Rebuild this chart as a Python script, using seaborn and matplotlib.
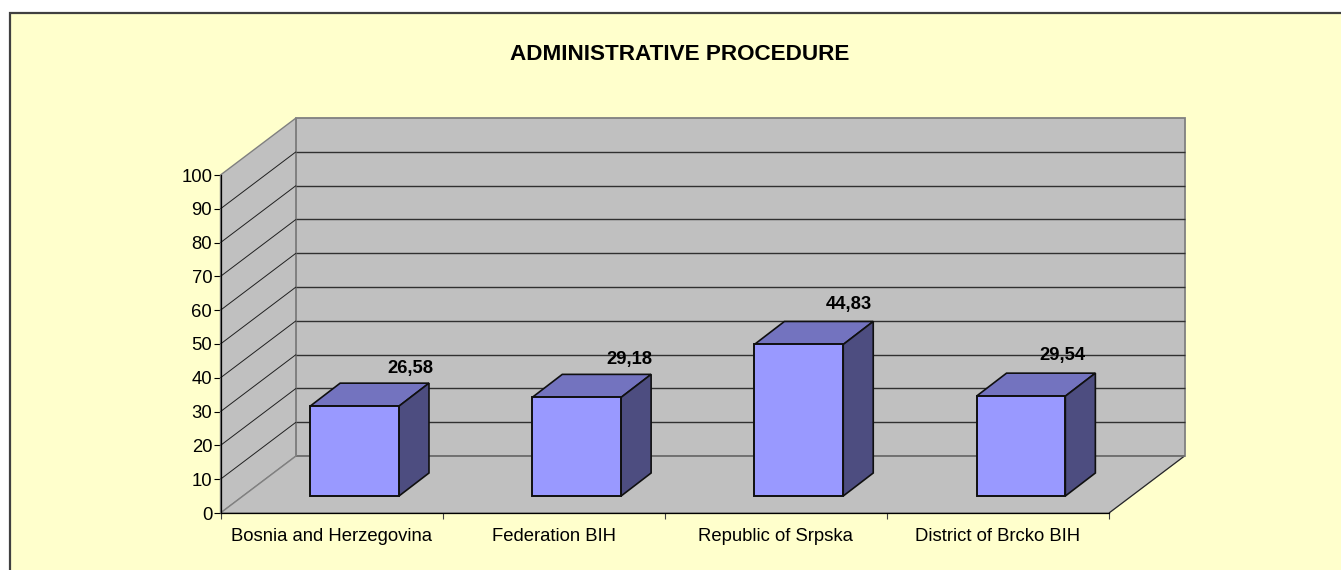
import matplotlib
matplotlib.use("Agg")
import matplotlib.pyplot as plt
from matplotlib.patches import Polygon, Rectangle
from matplotlib.transforms import Affine2D
import seaborn as sns

categories = ["Bosnia and Herzegovina", "Federation BIH", "Republic of Srpska", "District of Brcko BIH"]
values = [26.58, 29.18, 44.83, 29.54]
value_labels = ["26,58", "29,18", "44,83", "29,54"]
y_ticks = [0, 10, 20, 30, 40, 50, 60, 70, 80, 90, 100]
title = "ADMINISTRATIVE PROCEDURE"

# label nudges in pixels, Excel put them by hand
label_nudge_x = [56, 53, 50, 41]
label_nudge_y = [38, 38, 40, 41]

W, H = 1341, 570
YELLOW = "#FFFFCC"
WALL = "#C0C0C0"
EDGE = "#808080"
GRID = "#303030"

# depth of the walls and of the bars, pixels
WALL_DX, WALL_DY = 75.5, 57
BAR_DX, BAR_DY = 23, 17
DEPTH_DX, DEPTH_DY = 30, 23

sns.set_theme(style="white")
plt.rcParams["font.family"] = ["Liberation Sans", "DejaVu Sans"]

fig = plt.figure(figsize=(W / 100, H / 100), dpi=100, facecolor="white")
fig.add_artist(Rectangle((10 / W, -0.1), 1.1, 1.1 - 13.5 / H, transform=fig.transFigure,
                         facecolor=YELLOW, edgecolor="#404040", linewidth=1.6, zorder=-5))

ax = fig.add_axes([220.5 / W, (H - 513) / H, 888.5 / W, 338 / H])
ax.patch.set_visible(False)

sns.barplot(x=categories, y=values, color="#9999FF", saturation=1, width=0.4,
            edgecolor="#101010", linewidth=1.4, ax=ax, zorder=5)
ax.set_xlim(-0.5, 3.5)
ax.set_ylim(0, 100)
fig.canvas.draw()
bars = list(ax.patches)


def px(x, y, dx=0, dy=0):
    # data coords to display pixels, shifted into the depth
    p = ax.transData.transform((x, y))
    return (p[0] + dx, p[1] + dy)


def poly(points, face, edge, lw, z):
    fig_poly = Polygon(points, closed=True, facecolor=face, edgecolor=edge, linewidth=lw,
                       transform=None, zorder=z, clip_on=False, joinstyle="miter")
    ax.add_artist(fig_poly)


def line(p, q, color, lw, z=1):
    ax.plot([p[0], q[0]], [p[1], q[1]], color=color, linewidth=lw, transform=None,
            clip_on=False, zorder=z, solid_capstyle="butt")


x0, x1 = -0.5, 3.5

# back wall, side wall, floor
poly([px(x0, 0, WALL_DX, WALL_DY), px(x1, 0, WALL_DX, WALL_DY),
      px(x1, 100, WALL_DX, WALL_DY), px(x0, 100, WALL_DX, WALL_DY)], WALL, EDGE, 1.3, 0.5)
poly([px(x0, 0), px(x0, 0, WALL_DX, WALL_DY), px(x0, 100, WALL_DX, WALL_DY), px(x0, 100)],
     WALL, EDGE, 1.0, 0.6)
poly([px(x0, 0), px(x1, 0), px(x1, 0, WALL_DX, WALL_DY), px(x0, 0, WALL_DX, WALL_DY)],
     WALL, EDGE, 1.0, 0.7)
line(px(x1, 0), px(x1, 0, WALL_DX, WALL_DY), "#202020", 0.7, 0.8)
line(px(x0, 0, WALL_DX, WALL_DY), px(x1, 0, WALL_DX, WALL_DY), "#707070", 1.3, 0.9)
line(px(x0, 0, WALL_DX, WALL_DY), px(x0, 100, WALL_DX, WALL_DY), EDGE, 1.3, 0.9)

# gridlines on both walls
for tick in y_ticks[1:-1]:
    line(px(x0, tick), px(x0, tick, WALL_DX, WALL_DY), "#202020", 0.7)
    line(px(x0, tick, WALL_DX, WALL_DY), px(x1, tick, WALL_DX, WALL_DY), GRID, 1.0)

# shift the seaborn bars onto the floor and give them depth
shift = ax.transData + Affine2D().translate(BAR_DX, BAR_DY)
for i, bar in enumerate(bars):
    bar.set_transform(shift)
    bar.set_clip_on(False)
    left = bar.get_x()
    right = left + bar.get_width()
    top = bar.get_height()
    dx, dy = BAR_DX, BAR_DY
    ddx, ddy = BAR_DX + DEPTH_DX, BAR_DY + DEPTH_DY
    poly([px(left, top, dx, dy), px(right, top, dx, dy),
          px(right, top, ddx, ddy), px(left, top, ddx, ddy)], "#7373BF", "#101010", 1.2, 4)
    poly([px(right, 0, dx, dy), px(right, 0, ddx, ddy),
          px(right, top, ddx, ddy), px(right, top, dx, dy)], "#4D4D80", "#101010", 1.2, 4)
    cx = left + bar.get_width() / 2
    lx, ly = px(cx, top, BAR_DX + label_nudge_x[i], BAR_DY + label_nudge_y[i])
    ax.text(lx, ly, value_labels[i], transform=None, ha="center", va="center",
            fontsize=13.2, fontweight="bold", color="black", zorder=6)

# axes
sns.despine(ax=ax, top=True, right=True)
ax.spines["left"].set_color("black")
ax.spines["bottom"].set_color("black")
ax.spines["left"].set_linewidth(0.9)
ax.spines["bottom"].set_linewidth(0.9)
ax.spines["left"].set_zorder(3)
ax.spines["bottom"].set_zorder(3)

ax.set_yticks(y_ticks)
ax.tick_params(axis="y", left=True, length=5, width=0.8, color="black", pad=1,
               labelsize=13.3, labelcolor="black")
ax.set_xticks(range(len(categories)))
ax.set_xticklabels(categories, va="baseline")
ax.set_xticks([-0.5, 0.5, 1.5, 2.5, 3.5], minor=True)
ax.tick_params(axis="x", which="major", bottom=False, length=0, pad=20,
               labelsize=13.3, labelcolor="black")
ax.tick_params(axis="x", which="minor", bottom=True, length=4.5, width=0.8, color="#404040")

fig.text(679.5 / W, (H - 55) / H, title, ha="center", va="center", fontsize=16.2,
         fontweight="bold", color="black")

plt.savefig("out.png", dpi=100)
plt.close()
